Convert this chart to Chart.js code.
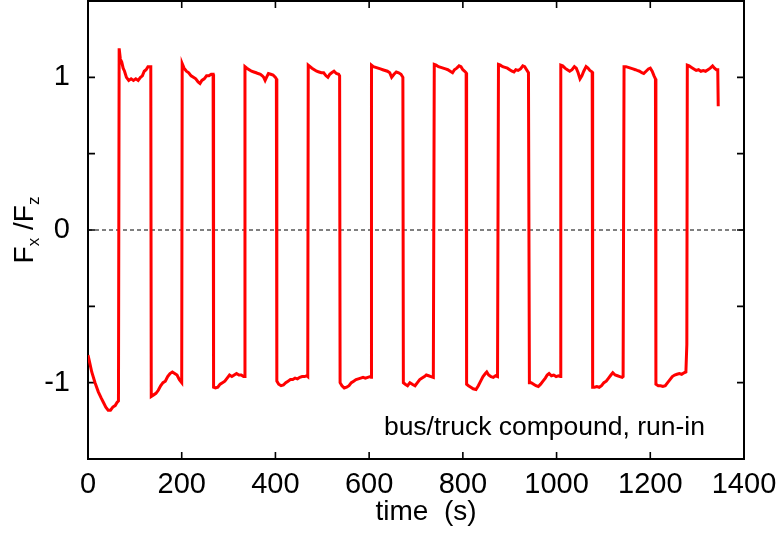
<!DOCTYPE html>
<html><head><meta charset="utf-8">
<script src="https://cdn.jsdelivr.net/npm/chart.js@4"></script>
<style>html,body{margin:0;padding:0;background:#fff}canvas{display:block}</style>
</head><body>
<canvas id="c" width="781" height="533"></canvas>
<script>
// time (s) and friction coefficient Fx/Fz
const timeSec = [
  0,3,8,15,22,28,33,38,43,48,53,58,62,65,
  66.5,69,72,75,78,82,87,92,97,102,107,112,116,120,124,128,132,134,
  135,140,145,150,155,160,165,170,175,180,185,190,195,200,
  201,205,210,215,220,225,230,235,239,243,248,253,258,263,267,
  268,272,277,282,287,292,297,302,307,312,317,322,327,332,334,
  335,339,344,349,354,359,363,368,372,375,378,381,385,390,395,400,402,
  403,407,412,417,422,427,432,437,442,447,452,457,462,467,469,
  470,474,478,483,488,493,498,503,508,512,516,520,525,530,535,537,
  538,542,547,552,557,562,567,572,577,582,587,592,597,602,604,
  605,609,614,619,624,629,634,639,644,648,653,658,663,668,672,
  673,677,682,687,692,698,703,708,713,718,722,727,732,737,
  739,743,748,753,758,763,768,773,778,782,787,792,796,800,804,807,
  808,812,817,822,828,833,838,843,848,851,855,860,865,870,874,
  876,880,885,890,895,900,905,909,913,918,923,928,932,936,940,
  942,946,951,956,961,966,971,976,980,984,989,994,999,1004,1008,
  1009,1013,1018,1023,1028,1033,1038,1042,1046,1050,1054,1058,1063,1067,1071,1076,
  1077,1081,1086,1091,1096,1101,1106,1111,1116,1120,1125,1130,1135,1140,1142,
  1144,1148,1153,1158,1163,1168,1172,1177,1182,1186,1191,1196,1200,1204,1208,1211,
  1212,1217,1222,1227,1232,1237,1242,1247,1252,1257,1262,1267,1272,1276,1278,
  1279,1283,1288,1293,1298,1303,1308,1313,1318,1323,1328,1333,1337,1341,1344,1345
];
const fxOverFz = [
  -0.82,-0.86,-0.93,-1.0,-1.06,-1.1,-1.13,-1.16,-1.18,-1.18,-1.16,-1.15,-1.13,-1.12,
  1.19,1.12,1.1,1.06,1.04,1.0,0.98,0.99,0.98,0.99,0.98,1.0,1.01,1.04,1.05,1.07,1.07,1.07,
  -1.09,-1.08,-1.07,-1.05,-1.02,-1.0,-0.99,-0.96,-0.94,-0.93,-0.94,-0.95,-0.98,-1.0,
  1.09,1.06,1.04,1.03,1.01,1.0,0.99,0.97,0.96,0.98,0.99,1.01,1.01,1.02,1.02,
  -1.03,-1.035,-1.03,-1.01,-1.0,-0.99,-0.97,-0.95,-0.96,-0.95,-0.94,-0.95,-0.95,-0.96,-0.96,
  1.07,1.06,1.05,1.04,1.035,1.03,1.025,1.02,1.01,1.0,0.98,1.0,1.025,1.02,1.015,1.0,0.99,
  -0.99,-1.01,-1.02,-1.015,-1.0,-0.99,-0.98,-0.98,-0.97,-0.975,-0.965,-0.96,-0.96,-0.955,-0.96,
  1.08,1.07,1.06,1.05,1.04,1.035,1.03,1.03,1.01,1.0,1.02,1.03,1.04,1.025,1.02,1.01,
  -1.0,-1.02,-1.035,-1.03,-1.02,-1.0,-0.99,-0.98,-0.975,-0.97,-0.965,-0.97,-0.965,-0.96,-0.965,
  1.08,1.07,1.065,1.06,1.055,1.05,1.045,1.04,1.03,1.0,1.02,1.035,1.03,1.02,1.0,
  -1.0,-1.01,-1.02,-1.0,-1.01,-1.02,-1.0,-0.98,-0.97,-0.96,-0.95,-0.955,-0.96,-0.965,
  1.085,1.08,1.07,1.065,1.06,1.055,1.05,1.04,1.03,1.05,1.06,1.075,1.07,1.05,1.04,1.03,
  -1.01,-1.02,-1.03,-1.04,-1.045,-1.02,-0.99,-0.96,-0.94,-0.93,-0.95,-0.96,-0.965,-0.955,-0.96,
  1.085,1.08,1.07,1.065,1.06,1.05,1.04,1.035,1.05,1.045,1.055,1.075,1.07,1.05,1.03,
  -1.0,-1.0,-1.01,-1.02,-1.025,-1.01,-0.99,-0.97,-0.95,-0.94,-0.955,-0.95,-0.96,-0.955,-0.96,
  1.08,1.075,1.06,1.05,1.04,1.05,1.07,1.06,1.03,0.99,1.01,1.04,1.07,1.06,1.045,1.035,
  -1.03,-1.03,-1.025,-1.03,-1.02,-1.0,-0.99,-0.97,-0.95,-0.935,-0.95,-0.955,-0.96,-0.965,-0.96,
  1.07,1.07,1.065,1.06,1.055,1.05,1.045,1.04,1.03,1.025,1.04,1.055,1.06,1.04,1.01,0.99,
  -1.01,-1.02,-1.02,-1.025,-1.02,-1.0,-0.98,-0.96,-0.95,-0.945,-0.94,-0.945,-0.935,-0.93,-0.75,
  1.08,1.075,1.065,1.055,1.045,1.05,1.04,1.045,1.04,1.05,1.06,1.075,1.06,1.05,1.05,0.81
];
const zeroLineTimes = [0, 1400];
const zeroLineValues = [0, 0];
const xTickStep = 200;
const yTickStep = 0.5;
const yLabelledTicks = [-1, 0, 1];
const xAxisTitle = 'time  (s)';
const annotationText = 'bus/truck compound, run-in';

const FONT = "'Liberation Sans', Arial, Helvetica, sans-serif";

const n = Math.min(timeSec.length, fxOverFz.length);
const curve = [];
for (let i = 0; i < n; i++) curve.push({x: timeSec[i], y: fxOverFz[i]});
const zeroLine = zeroLineTimes.map((t, i) => ({x: t, y: zeroLineValues[i]}));

const framePlugin = {
  id: 'frame',
  beforeDatasetsDraw(chart) {
    const {ctx, chartArea: a, scales: {x, y}} = chart;
    ctx.save();
    ctx.strokeStyle = '#000';
    ctx.lineWidth = 2;
    ctx.strokeRect(a.left, a.top, a.right - a.left, a.bottom - a.top);
    ctx.lineWidth = 1.6;
    const tl = 7;
    ctx.beginPath();
    x.ticks.forEach(t => {
      const p = x.getPixelForValue(t.value);
      ctx.moveTo(p, a.bottom); ctx.lineTo(p, a.bottom - tl);
      ctx.moveTo(p, a.top); ctx.lineTo(p, a.top + tl);
    });
    y.ticks.forEach(t => {
      const p = y.getPixelForValue(t.value);
      ctx.moveTo(a.left, p); ctx.lineTo(a.left + tl, p);
      ctx.moveTo(a.right, p); ctx.lineTo(a.right - tl, p);
    });
    ctx.stroke();
    ctx.restore();
  },
  afterDraw(chart) {
    const {ctx, chartArea: a} = chart;
    ctx.save();
    ctx.fillStyle = '#000';
    // annotation
    ctx.font = '26.5px ' + FONT;
    ctx.textAlign = 'right';
    ctx.textBaseline = 'alphabetic';
    ctx.fillText(annotationText, a.right - 39, 435);
    // x title
    ctx.font = '28px ' + FONT;
    ctx.textAlign = 'center';
    ctx.fillText(xAxisTitle, (a.left + a.right) / 2 + 10, 520);
    // y title: F_x /F_z rotated
    const parts = [
      {t: 'F', f: '28px ', dy: 0},
      {t: 'x', f: '17px ', dy: 6},
      {t: ' /F', f: '28px ', dy: 0},
      {t: 'z', f: '17px ', dy: 6}
    ];
    let total = 0;
    parts.forEach(p => { ctx.font = p.f + FONT; p.w = ctx.measureText(p.t).width; total += p.w; });
    ctx.translate(33, (a.top + a.bottom) / 2);
    ctx.rotate(-Math.PI / 2);
    ctx.textAlign = 'left';
    let u = -total / 2;
    parts.forEach(p => { ctx.font = p.f + FONT; ctx.fillText(p.t, u, p.dy); u += p.w; });
    ctx.restore();
  }
};

function zeroPadding(s) {
  s.paddingTop = 0; s.paddingBottom = 0; s.paddingLeft = 0; s.paddingRight = 0;
}

new Chart(document.getElementById('c'), {
  type: 'line',
  data: {
    datasets: [
      {data: curve, borderColor: '#ff0000', borderWidth: 3, pointRadius: 0, tension: 0, fill: false, order: 0},
      {data: zeroLine, borderColor: '#000', borderWidth: 1, borderDash: [4, 3], pointRadius: 0, fill: false, order: 1}
    ]
  },
  options: {
    responsive: false,
    animation: false,
    events: [],
    layout: {padding: {left: 0, top: 1, right: 37, bottom: 0}},
    plugins: {legend: {display: false}, tooltip: {enabled: false}, title: {display: false}},
    scales: {
      x: {
        type: 'linear', min: 0, max: 1400,
        border: {display: false},
        grid: {display: false, drawTicks: false},
        ticks: {stepSize: xTickStep, color: '#000', padding: 9, maxRotation: 0, autoSkip: false,
          font: {family: FONT, size: 29}, callback: v => String(v)},
        afterFit: s => { s.height = 74; zeroPadding(s); }
      },
      y: {
        type: 'linear', min: -1.5, max: 1.5,
        border: {display: false},
        grid: {display: false, drawTicks: false},
        ticks: {stepSize: yTickStep, color: '#000', padding: 18, autoSkip: false,
          font: {family: FONT, size: 29},
          callback: v => (yLabelledTicks.includes(v) ? String(v) : '')},
        afterFit: s => { s.width = 88; zeroPadding(s); }
      }
    }
  },
  plugins: [framePlugin]
});
</script>
</body></html>
